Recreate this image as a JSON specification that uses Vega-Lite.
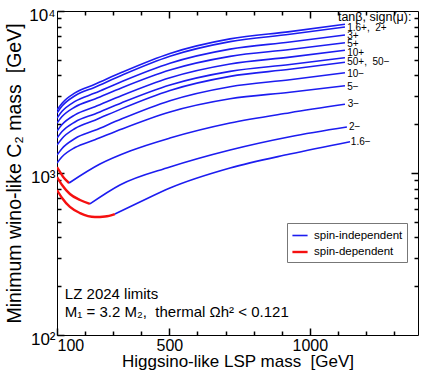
{
  "$schema": "https://vega.github.io/schema/vega-lite/v6.json",
  "width": 361,
  "height": 324,
  "autosize": {"type": "none"},
  "padding": {"left": 57, "top": 11, "right": 6, "bottom": 38},
  "background": "white",
  "config": {
    "view": {"stroke": "black", "strokeWidth": 1},
    "axis": {"grid": false, "domain": false, "labelColor": "black", "titleColor": "black", "labelFont": "Liberation Sans", "titleFont": "Liberation Sans", "titleFontWeight": "normal"},
    "text": {"font": "Liberation Sans"}
  },
  "datasets": {
    "curves": [
      {"curve": "1.6+", "type": "spin-independent", "m": 100, "c": 2448},
      {"curve": "1.6+", "type": "spin-independent", "m": 118, "c": 2699},
      {"curve": "1.6+", "type": "spin-independent", "m": 164, "c": 3124},
      {"curve": "1.6+", "type": "spin-independent", "m": 235, "c": 3529},
      {"curve": "1.6+", "type": "spin-independent", "m": 331, "c": 4184},
      {"curve": "1.6+", "type": "spin-independent", "m": 502, "c": 5470},
      {"curve": "1.6+", "type": "spin-independent", "m": 716, "c": 6730},
      {"curve": "1.6+", "type": "spin-independent", "m": 929, "c": 7463},
      {"curve": "1.6+", "type": "spin-independent", "m": 1125, "c": 8276},
      {"curve": "2+", "type": "spin-independent", "m": 100, "c": 2346},
      {"curve": "2+", "type": "spin-independent", "m": 118, "c": 2588},
      {"curve": "2+", "type": "spin-independent", "m": 164, "c": 2997},
      {"curve": "2+", "type": "spin-independent", "m": 235, "c": 3387},
      {"curve": "2+", "type": "spin-independent", "m": 331, "c": 4018},
      {"curve": "2+", "type": "spin-independent", "m": 502, "c": 5258},
      {"curve": "2+", "type": "spin-independent", "m": 716, "c": 6471},
      {"curve": "2+", "type": "spin-independent", "m": 929, "c": 7181},
      {"curve": "2+", "type": "spin-independent", "m": 1125, "c": 7965},
      {"curve": "3+", "type": "spin-independent", "m": 100, "c": 2185},
      {"curve": "3+", "type": "spin-independent", "m": 118, "c": 2402},
      {"curve": "3+", "type": "spin-independent", "m": 164, "c": 2767},
      {"curve": "3+", "type": "spin-independent", "m": 235, "c": 3113},
      {"curve": "3+", "type": "spin-independent", "m": 331, "c": 3672},
      {"curve": "3+", "type": "spin-independent", "m": 502, "c": 4760},
      {"curve": "3+", "type": "spin-independent", "m": 716, "c": 5816},
      {"curve": "3+", "type": "spin-independent", "m": 929, "c": 6431},
      {"curve": "3+", "type": "spin-independent", "m": 1125, "c": 7110},
      {"curve": "5+", "type": "spin-independent", "m": 100, "c": 2035},
      {"curve": "5+", "type": "spin-independent", "m": 118, "c": 2230},
      {"curve": "5+", "type": "spin-independent", "m": 164, "c": 2557},
      {"curve": "5+", "type": "spin-independent", "m": 235, "c": 2866},
      {"curve": "5+", "type": "spin-independent", "m": 331, "c": 3363},
      {"curve": "5+", "type": "spin-independent", "m": 502, "c": 4324},
      {"curve": "5+", "type": "spin-independent", "m": 716, "c": 5248},
      {"curve": "5+", "type": "spin-independent", "m": 929, "c": 5782},
      {"curve": "5+", "type": "spin-independent", "m": 1125, "c": 6372},
      {"curve": "10+", "type": "spin-independent", "m": 100, "c": 1816},
      {"curve": "10+", "type": "spin-independent", "m": 118, "c": 1991},
      {"curve": "10+", "type": "spin-independent", "m": 164, "c": 2285},
      {"curve": "10+", "type": "spin-independent", "m": 235, "c": 2563},
      {"curve": "10+", "type": "spin-independent", "m": 331, "c": 3010},
      {"curve": "10+", "type": "spin-independent", "m": 502, "c": 3873},
      {"curve": "10+", "type": "spin-independent", "m": 716, "c": 4707},
      {"curve": "10+", "type": "spin-independent", "m": 929, "c": 5189},
      {"curve": "10+", "type": "spin-independent", "m": 1125, "c": 5719},
      {"curve": "50+", "type": "spin-independent", "m": 100, "c": 1644},
      {"curve": "50+", "type": "spin-independent", "m": 118, "c": 1802},
      {"curve": "50+", "type": "spin-independent", "m": 164, "c": 2066},
      {"curve": "50+", "type": "spin-independent", "m": 235, "c": 2316},
      {"curve": "50+", "type": "spin-independent", "m": 331, "c": 2717},
      {"curve": "50+", "type": "spin-independent", "m": 502, "c": 3493},
      {"curve": "50+", "type": "spin-independent", "m": 716, "c": 4240},
      {"curve": "50+", "type": "spin-independent", "m": 929, "c": 4673},
      {"curve": "50+", "type": "spin-independent", "m": 1125, "c": 5148},
      {"curve": "50-", "type": "spin-independent", "m": 100, "c": 1489},
      {"curve": "50-", "type": "spin-independent", "m": 118, "c": 1635},
      {"curve": "50-", "type": "spin-independent", "m": 164, "c": 1883},
      {"curve": "50-", "type": "spin-independent", "m": 235, "c": 2118},
      {"curve": "50-", "type": "spin-independent", "m": 331, "c": 2497},
      {"curve": "50-", "type": "spin-independent", "m": 502, "c": 3233},
      {"curve": "50-", "type": "spin-independent", "m": 716, "c": 3950},
      {"curve": "50-", "type": "spin-independent", "m": 929, "c": 4365},
      {"curve": "50-", "type": "spin-independent", "m": 1125, "c": 4823},
      {"curve": "10-", "type": "spin-independent", "m": 100, "c": 1291},
      {"curve": "10-", "type": "spin-independent", "m": 118, "c": 1418},
      {"curve": "10-", "type": "spin-independent", "m": 164, "c": 1632},
      {"curve": "10-", "type": "spin-independent", "m": 235, "c": 1834},
      {"curve": "10-", "type": "spin-independent", "m": 331, "c": 2161},
      {"curve": "10-", "type": "spin-independent", "m": 502, "c": 2795},
      {"curve": "10-", "type": "spin-independent", "m": 716, "c": 3410},
      {"curve": "10-", "type": "spin-independent", "m": 929, "c": 3766},
      {"curve": "10-", "type": "spin-independent", "m": 1125, "c": 4160},
      {"curve": "5-", "type": "spin-independent", "m": 100, "c": 1153},
      {"curve": "5-", "type": "spin-independent", "m": 118, "c": 1259},
      {"curve": "5-", "type": "spin-independent", "m": 164, "c": 1436},
      {"curve": "5-", "type": "spin-independent", "m": 235, "c": 1603},
      {"curve": "5-", "type": "spin-independent", "m": 331, "c": 1869},
      {"curve": "5-", "type": "spin-independent", "m": 502, "c": 2380},
      {"curve": "5-", "type": "spin-independent", "m": 716, "c": 2870},
      {"curve": "5-", "type": "spin-independent", "m": 929, "c": 3151},
      {"curve": "5-", "type": "spin-independent", "m": 1125, "c": 3459},
      {"curve": "3-", "type": "spin-dependent", "m": 100, "c": 1089},
      {"curve": "3-", "type": "spin-dependent", "m": 111, "c": 1014},
      {"curve": "3-", "type": "spin-dependent", "m": 125, "c": 931},
      {"curve": "3-", "type": "spin-dependent", "m": 143, "c": 868},
      {"curve": "3-", "type": "spin-independent", "m": 143, "c": 868},
      {"curve": "3-", "type": "spin-independent", "m": 253, "c": 1136},
      {"curve": "3-", "type": "spin-independent", "m": 360, "c": 1367},
      {"curve": "3-", "type": "spin-independent", "m": 502, "c": 1644},
      {"curve": "3-", "type": "spin-independent", "m": 716, "c": 2035},
      {"curve": "3-", "type": "spin-independent", "m": 929, "c": 2357},
      {"curve": "3-", "type": "spin-independent", "m": 1125, "c": 2656},
      {"curve": "2-", "type": "spin-dependent", "m": 100, "c": 945},
      {"curve": "2-", "type": "spin-dependent", "m": 118, "c": 843},
      {"curve": "2-", "type": "spin-dependent", "m": 146, "c": 742},
      {"curve": "2-", "type": "spin-dependent", "m": 182, "c": 681},
      {"curve": "2-", "type": "spin-dependent", "m": 217, "c": 644},
      {"curve": "2-", "type": "spin-independent", "m": 217, "c": 644},
      {"curve": "2-", "type": "spin-independent", "m": 324, "c": 843},
      {"curve": "2-", "type": "spin-independent", "m": 502, "c": 1089},
      {"curve": "2-", "type": "spin-independent", "m": 716, "c": 1387},
      {"curve": "2-", "type": "spin-independent", "m": 929, "c": 1675},
      {"curve": "2-", "type": "spin-independent", "m": 1132, "c": 1923},
      {"curve": "1.6-", "type": "spin-dependent", "m": 100, "c": 785},
      {"curve": "1.6-", "type": "spin-dependent", "m": 118, "c": 701},
      {"curve": "1.6-", "type": "spin-dependent", "m": 146, "c": 617},
      {"curve": "1.6-", "type": "spin-dependent", "m": 182, "c": 566},
      {"curve": "1.6-", "type": "spin-dependent", "m": 235, "c": 535},
      {"curve": "1.6-", "type": "spin-dependent", "m": 271, "c": 539},
      {"curve": "1.6-", "type": "spin-dependent", "m": 306, "c": 558},
      {"curve": "1.6-", "type": "spin-independent", "m": 306, "c": 558},
      {"curve": "1.6-", "type": "spin-independent", "m": 395, "c": 662},
      {"curve": "1.6-", "type": "spin-independent", "m": 502, "c": 808},
      {"curve": "1.6-", "type": "spin-independent", "m": 716, "c": 1074},
      {"curve": "1.6-", "type": "spin-independent", "m": 929, "c": 1310},
      {"curve": "1.6-", "type": "spin-independent", "m": 1143, "c": 1561}
    ],
    "labels": [
      {"t": "1.6+,\u00a0 2+", "m": 1133, "c": 7855},
      {"t": "3+", "m": 1133, "c": 7010},
      {"t": "5+", "m": 1133, "c": 6256},
      {"t": "10+", "m": 1133, "c": 5504},
      {"t": "50+,\u00a0 50−", "m": 1133, "c": 4844},
      {"t": "10−", "m": 1133, "c": 4084},
      {"t": "5−", "m": 1133, "c": 3395},
      {"t": "3−", "m": 1135, "c": 2667},
      {"t": "2−", "m": 1139, "c": 1923},
      {"t": "1.6−", "m": 1146, "c": 1554}
    ],
    "header": [
      {"t": "tanβ, sign(μ):", "m": 1100, "c": 9184}
    ],
    "note1": [
      {"t": "LZ 2024 limits", "m": 128, "c": 179}
    ],
    "note2": [
      {"t": "M₁ = 3.2 M₂,\u00a0 thermal Ωh² < 0.121", "m": 128, "c": 139}
    ]
  },
  "layer": [
    {
      "data": {"name": "curves"},
      "mark": {"type": "line", "interpolate": "monotone", "clip": true},
      "encoding": {
        "x": {"field": "m", "type": "quantitative",
          "scale": {"type": "linear", "domain": [100, 1385], "nice": false, "zero": false},
          "axis": {"orient": "bottom", "values": [100, 500, 1000], "format": "d", "ticks": true, "tickSize": -7, "tickColor": "black", "tickWidth": 1.5, "labelPadding": 9, "labelFlush": true, "labelFontSize": 16,
            "title": "Higgsino-like LSP mass\u00a0 [GeV]", "titleFontSize": 17, "titleY": 26, "titleBaseline": "middle"}},
        "y": {"field": "c", "type": "quantitative",
          "scale": {"type": "log", "domain": [100, 10000], "nice": false},
          "axis": {"orient": "left", "values": [100, 1000, 10000], "ticks": true, "tickSize": -7, "tickColor": "black", "tickWidth": 1.5, "labelPadding": 9, "labelFontSize": 17, "labelOffset": 4,
            "labelExpr": "datum.value == 100 ? '10²' : datum.value == 1000 ? '10³' : '10⁴'",
            "title": "Minimum wino-like C₂ mass\u00a0 [GeV]", "titleFontSize": 19.5, "titleX": -43, "titleY": 162, "titleBaseline": "middle"}},
        "color": {"field": "type", "type": "nominal",
          "scale": {"domain": ["spin-independent", "spin-dependent"], "range": ["#1c1cf0", "#f51010"]},
          "legend": {"title": null, "orient": "none", "legendX": 230, "legendY": 212, "symbolType": "stroke", "symbolSize": 230, "symbolStrokeWidth": 2,
            "labelFontSize": 11.5, "labelFont": "Liberation Sans", "labelColor": "black", "strokeColor": "#777777", "fillColor": "white", "padding": 4, "rowPadding": 2, "labelOffset": 5}},
        "strokeWidth": {"field": "type", "type": "ordinal", "scale": {"domain": ["spin-independent", "spin-dependent"], "range": [1.6, 2.4]}, "legend": null},
        "detail": {"field": "curve"}
      }
    },
    {
      "data": {"name": "header"},
      "mark": {"type": "text", "align": "left", "baseline": "middle", "fontSize": 12.5, "font": "Liberation Sans", "color": "black"},
      "encoding": {
        "x": {"field": "m", "type": "quantitative",
          "scale": {"type": "linear", "domain": [100, 1385], "nice": false, "zero": false},
          "axis": {"orient": "top", "values": [500, 1000], "offset": -7, "ticks": true, "tickSize": 7, "tickColor": "black", "tickWidth": 1.5, "labels": false, "title": null}},
        "y": {"field": "c", "type": "quantitative",
          "scale": {"type": "log", "domain": [100, 10000], "nice": false},
          "axis": {"orient": "right", "values": [1000], "offset": -7, "ticks": true, "tickSize": 7, "tickColor": "black", "tickWidth": 1.5, "labels": false, "title": null}},
        "text": {"field": "t"}
      }
    },
    {
      "data": {"name": "note1"},
      "mark": {"type": "text", "align": "left", "baseline": "middle", "fontSize": 15, "font": "Liberation Sans", "color": "black"},
      "encoding": {
        "x": {"field": "m", "type": "quantitative",
          "scale": {"type": "linear", "domain": [100, 1385], "nice": false, "zero": false},
          "axis": {"orient": "bottom", "values": [200, 300, 400, 600, 700, 800, 900, 1100, 1200, 1300], "offset": -4, "ticks": true, "tickSize": 4, "tickColor": "black", "tickWidth": 1.5, "labels": false, "title": null}},
        "y": {"field": "c", "type": "quantitative",
          "scale": {"type": "log", "domain": [100, 10000], "nice": false},
          "axis": {"orient": "left", "values": [200, 300, 400, 500, 600, 700, 800, 900, 2000, 3000, 4000, 5000, 6000, 7000, 8000, 9000], "offset": -4, "ticks": true, "tickSize": 4, "tickColor": "black", "tickWidth": 1.5, "labels": false, "title": null}},
        "text": {"field": "t"}
      }
    },
    {
      "data": {"name": "note2"},
      "mark": {"type": "text", "align": "left", "baseline": "middle", "fontSize": 15, "font": "Liberation Sans", "color": "black"},
      "encoding": {
        "x": {"field": "m", "type": "quantitative",
          "scale": {"type": "linear", "domain": [100, 1385], "nice": false, "zero": false},
          "axis": {"orient": "top", "values": [200, 300, 400, 600, 700, 800, 900, 1100, 1200, 1300], "offset": -4, "ticks": true, "tickSize": 4, "tickColor": "black", "tickWidth": 1.5, "labels": false, "title": null}},
        "y": {"field": "c", "type": "quantitative",
          "scale": {"type": "log", "domain": [100, 10000], "nice": false},
          "axis": {"orient": "right", "values": [200, 300, 400, 500, 600, 700, 800, 900, 2000, 3000, 4000, 5000, 6000, 7000, 8000, 9000], "offset": -4, "ticks": true, "tickSize": 4, "tickColor": "black", "tickWidth": 1.5, "labels": false, "title": null}},
        "text": {"field": "t"}
      }
    },
    {
      "data": {"name": "labels"},
      "mark": {"type": "text", "align": "left", "baseline": "middle", "fontSize": 10, "font": "Liberation Sans", "color": "black"},
      "encoding": {
        "x": {"field": "m", "type": "quantitative",
          "scale": {"type": "linear", "domain": [100, 1385], "nice": false, "zero": false},
          "axis": null},
        "y": {"field": "c", "type": "quantitative",
          "scale": {"type": "log", "domain": [100, 10000], "nice": false},
          "axis": null},
        "text": {"field": "t"}
      }
    }
  ],
  "resolve": {
    "scale": {"x": "independent", "y": "independent"},
    "axis": {"x": "independent", "y": "independent"}
  }
}
